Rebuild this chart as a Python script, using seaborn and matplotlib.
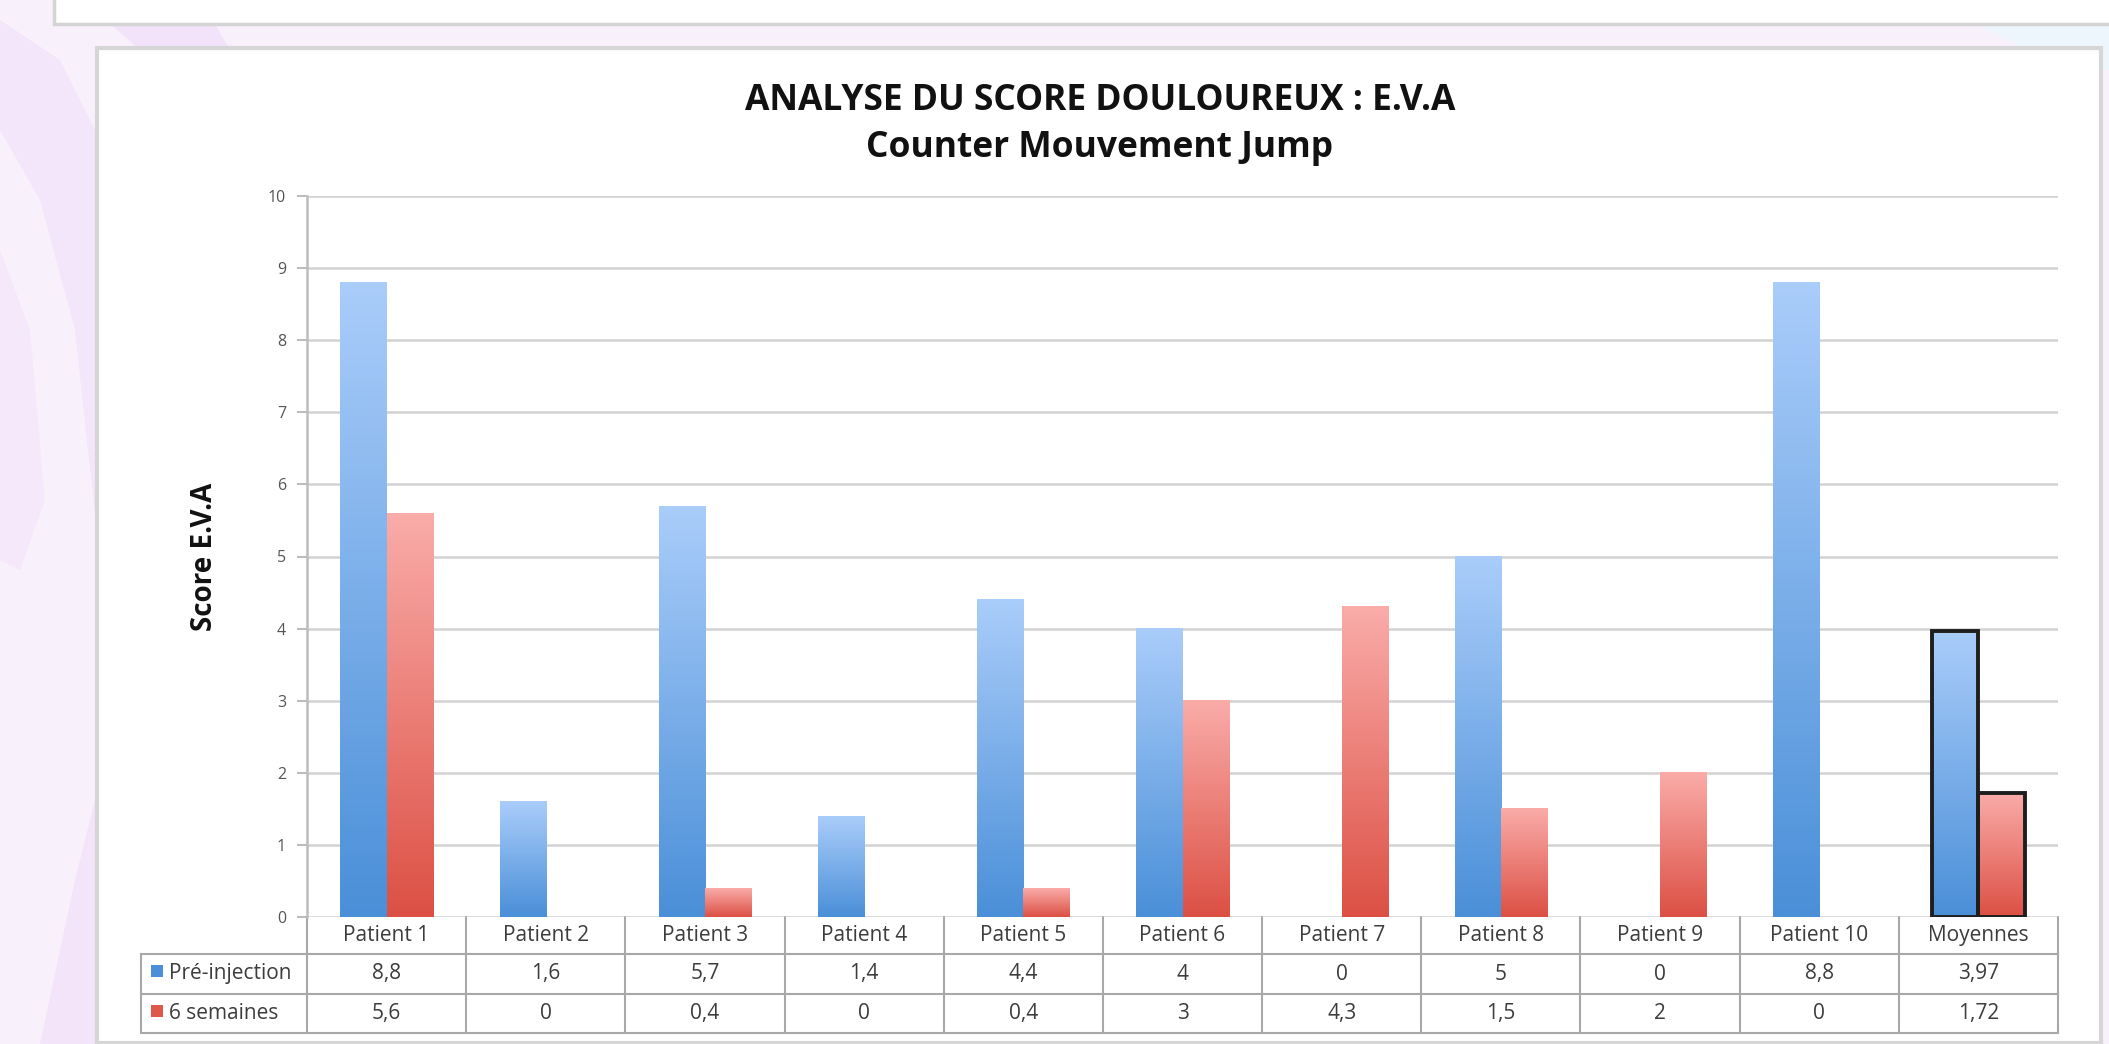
import numpy as np
import pandas as pd
import matplotlib
matplotlib.use("Agg")
import matplotlib.pyplot as plt
import seaborn as sns
from matplotlib.colors import LinearSegmentedColormap
from matplotlib.patches import Rectangle, Polygon

# ---------------- data ----------------
categories = ["Patient 1", "Patient 2", "Patient 3", "Patient 4", "Patient 5",
              "Patient 6", "Patient 7", "Patient 8", "Patient 9", "Patient 10",
              "Moyennes"]
series_names = ["Pré-injection", "6 semaines"]
pre_injection = [8.8, 1.6, 5.7, 1.4, 4.4, 4, 0, 5, 0, 8.8, 3.97]
six_weeks = [5.6, 0, 0.4, 0, 0.4, 3, 4.3, 1.5, 2, 0, 1.72]
y_ticks = [0, 1, 2, 3, 4, 5, 6, 7, 8, 9, 10]
title_1 = "ANALYSE DU SCORE DOULOUREUX : E.V.A"
title_2 = "Counter Mouvement Jump"
y_label = "Score E.V.A"

df = pd.DataFrame({
    "cat": categories * 2,
    "val": pre_injection + six_weeks,
    "serie": [series_names[0]] * len(categories) + [series_names[1]] * len(categories),
})

sns.set_theme(style="white")
plt.rcParams["font.family"] = ["Open Sans", "DejaVu Sans"]

W, H = 2109, 1044
fig = plt.figure(figsize=(W / 100, H / 100), dpi=100)
fig.patch.set_facecolor("#f8f1fc")

# ---------------- background decoration ----------------
bg = fig.add_axes([0, 0, 1, 1], zorder=-10)
bg.set_xlim(0, W)
bg.set_ylim(H, 0)
bg.axis("off")
bg.add_patch(Polygon([(0, 130), (40, 200), (75, 330), (100, 560), (100, 140), (60, 60), (0, 20)],
                     closed=True, fc="#f3e5fa", ec="none"))
bg.add_patch(Polygon([(0, 250), (30, 330), (45, 500), (20, 570), (0, 560)],
                     closed=True, fc="#f5e8fb", ec="none"))
bg.add_patch(Polygon([(40, 1044), (75, 880), (100, 780), (100, 1044)],
                     closed=True, fc="#f3e4f9", ec="none"))
bg.add_patch(Polygon([(110, 24), (215, 24), (230, 50), (140, 50)],
                     closed=True, fc="#f3e3fa", ec="none"))
bg.add_patch(Polygon([(1975, 24), (2109, 24), (2109, 70), (2040, 55)],
                     closed=True, fc="#eef6fd", ec="none"))
# top white box
bg.add_patch(Rectangle((54, -10), 2100, 34, fc="white", ec="#d4d4d4", lw=2.5))
# chart panel
bg.add_patch(Rectangle((97, 48), 2004, 995, fc="white", ec="#d6d6d6", lw=3))

# ---------------- main axes ----------------
ax_l, ax_r, ax_t, ax_b = 307, 2058, 196, 917
ax = fig.add_axes([ax_l / W, 1 - ax_b / H, (ax_r - ax_l) / W, (ax_b - ax_t) / H])
ax.set_facecolor("none")

blue, red = "#5d9ae0", "#e5675c"
sns.barplot(data=df, x="cat", y="val", hue="serie", palette=[blue, red],
            width=0.58, gap=0, legend=False, ax=ax, saturation=1)

ax.set_xlim(-0.5, len(categories) - 0.5)
ax.set_ylim(0, 10)

cmap_blue = LinearSegmentedColormap.from_list("b", ["#4a8fd8", "#aacdfa"])
cmap_red = LinearSegmentedColormap.from_list("r", ["#dc5044", "#faaca9"])
grad = np.linspace(0, 1, 256).reshape(-1, 1)
for cont, cmap in zip(ax.containers, [cmap_blue, cmap_red]):
    for i, bar in enumerate(cont):
        h = bar.get_height()
        x0 = bar.get_x()
        w = bar.get_width()
        if h > 0:
            ax.imshow(grad, extent=[x0, x0 + w, 0, h], origin="lower", aspect="auto",
                      cmap=cmap, zorder=2, interpolation="bilinear")
        bar.set_facecolor("none")
        if categories[i] == "Moyennes":
            bar.set_edgecolor("#1e1e1e")
            bar.set_linewidth(2.8)
        else:
            bar.set_edgecolor("none")
        bar.set_zorder(3)

ax.set_xlim(-0.5, len(categories) - 0.5)
ax.set_ylim(0, 10)

for s in ["top", "right", "bottom"]:
    ax.spines[s].set_visible(False)
ax.spines["left"].set_color("#bdbdbd")
ax.spines["left"].set_linewidth(1.8)
ax.set_yticks(y_ticks)
ax.set_yticklabels([str(t) for t in y_ticks])
ax.tick_params(axis="y", colors="#bdbdbd", labelcolor="#555555", labelsize=11.5,
               length=7, width=1.5, direction="out", left=True, pad=8)
ax.set_xticks([])
ax.set_xlabel("")
ax.yaxis.grid(True, color="#d2d2d2", lw=1.8)
ax.set_axisbelow(True)
ax.set_ylabel(y_label, fontsize=20, fontweight="bold", color="#111111")
ax.yaxis.set_label_coords(-0.050, 0.5)

# ---------------- data table ----------------
fmt = lambda v: f"{v:g}".replace(".", ",")
trans = ax.get_xaxis_transform()
ax_w_px = ax_r - ax_l
ax_h_px = ax_b - ax_t
yf = lambda py: (ax_b - py) / ax_h_px
xf = lambda px: (px - ax_l) / ax_w_px
r0, r1, r2, r3 = yf(917), yf(954), yf(994), yf(1033)
lc = "#a8a8a8"
n = len(categories)
for k in range(n + 1):
    ax.plot([k - 0.5, k - 0.5], [r0, r3], transform=trans, color=lc, lw=1.5, clip_on=False)
for yy in [r1, r2, r3]:
    ax.plot([0, 1], [yy, yy], transform=ax.transAxes, color=lc, lw=1.5, clip_on=False)
    ax.plot([xf(141), 0], [yy, yy], transform=ax.transAxes, color=lc, lw=1.5, clip_on=False)
ax.plot([xf(141), xf(141)], [r1, r3], transform=ax.transAxes, color=lc, lw=1.5, clip_on=False)

tc = "#3c3c3c"
fs_tab = 15
for i, c in enumerate(categories):
    ax.text(i, (r0 + r1) / 2, c, transform=trans, ha="center", va="center",
            fontsize=fs_tab, color=tc, clip_on=False)
    ax.text(i, (r1 + r2) / 2, fmt(pre_injection[i]), transform=trans, ha="center",
            va="center", fontsize=fs_tab, color=tc, clip_on=False)
    ax.text(i, (r2 + r3) / 2, fmt(six_weeks[i]), transform=trans, ha="center",
            va="center", fontsize=fs_tab, color=tc, clip_on=False)

for name, col, (ya, yb) in zip(series_names, ["#4a8fd8", "#e0584c"], [(r1, r2), (r2, r3)]):
    ym = (ya + yb) / 2
    sq_h = 12 / ax_h_px
    ax.add_patch(Rectangle((xf(151), ym - sq_h / 2 + 3 / ax_h_px), 12 / ax_w_px, sq_h,
                           transform=ax.transAxes, fc=col, ec="none", clip_on=False))
    ax.text(xf(169), ym, name, transform=ax.transAxes, ha="left", va="center",
            fontsize=fs_tab, color=tc, clip_on=False)

# ---------------- titles ----------------
fig.text(1100 / W, 1 - 101 / H, title_1, ha="center", va="center",
         fontsize=25.5, fontweight="bold", color="#111111")
fig.text(1100 / W, 1 - 148 / H, title_2, ha="center", va="center",
         fontsize=25.5, fontweight="bold", color="#111111")

fig.savefig("out.png", dpi=100, facecolor=fig.get_facecolor())
